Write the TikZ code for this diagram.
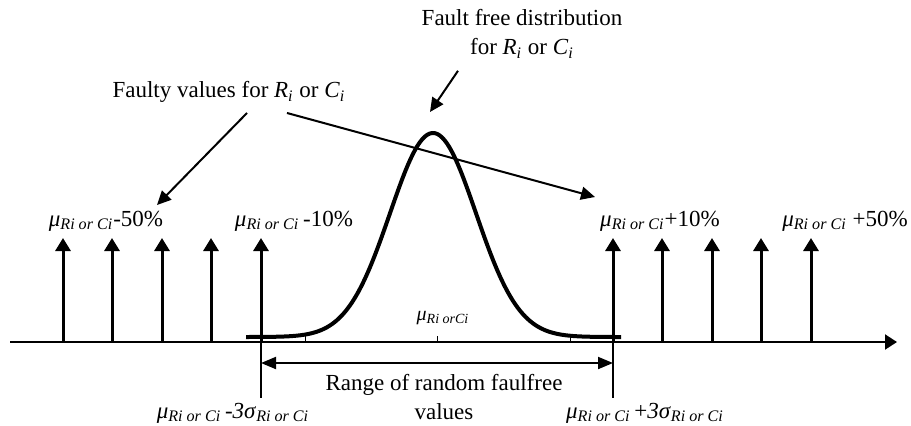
\documentclass[tikz,border=0pt]{standalone}
\usepackage{fontspec}
\setmainfont{Liberation Serif}
\usepackage{tikz}
\usetikzlibrary{positioning, arrows.meta, calc}
\newcommand{\rcsub}{\textsubscript{\textit{Ri or Ci}}}
\newcommand{\murc}{\textit{μ}\rcsub}

\begin{document}
\begin{tikzpicture}[x=0.5pt, y=-0.5pt,
      txt/.style={font=\fontsize{11.5}{14.5}\selectfont, align=center, inner sep=1pt},
      impulse/.style={-{Triangle[length=6.5pt, width=7.5pt]}, line width=1.5pt},
      axis/.style={-{Triangle[length=6pt, width=7.5pt]}, line width=1pt},
      arr/.style={-{Triangle[length=7pt, width=6.5pt]}, line width=1pt},
      span/.style={{Triangle[length=7.5pt, width=6pt]}-{Triangle[length=7.5pt, width=6pt]}, line width=1pt},
      curve/.style={line width=2pt},
      guide/.style={line width=0.6pt}]
    \useasboundingbox (0,0) rectangle (911,425);
    \coordinate (axL) at (10,342);
    \coordinate (axR) at (897,342);
    \draw[axis] (axL) -- (axR);
    \foreach \px [count=\k] in {305,437,570}
      \draw[line width=0.4pt] (\px,342) -- (\px,336);
    \draw[curve] plot[domain=246:621, samples=150, smooth] (\x, {337-204*exp(-((\x-433)/43)^2/2)});
    \foreach \px [count=\k] in {63,112,162,211,261,613,662,712,761,811} {
      \coordinate (b\k) at (\px,342);
      \coordinate (t\k) at (\px,238);
      \draw[impulse] (b\k) -- (t\k);
    }
    \coordinate (lo) at (261,398);
    \coordinate (hi) at (613,398);
    \draw[guide] (b5) -- (lo);
    \draw[guide] (b6) -- (hi);
    \coordinate (rgL) at (261,363);
    \coordinate (rgR) at (613,363);
    \draw[span] (rgL) -- (rgR);
    \node[txt] (m50) at (106,221) {\murc-50\%};
    \node[txt] (m10) at (294,221) {\murc\,-10\%};
    \node[txt] (p10) at (660,221) {\murc+10\%};
    \node[txt] (p50) at (845,221) {\murc\ +50\%};
    \node[txt, font=\fontsize{10}{12}\selectfont] (mean) at (443,318) {\textit{μ}\textsubscript{\textit{Ri orCi}}};
    \node[txt] (lolbl) at (233,413) {\murc\,-\textit{3σ}\rcsub};
    \node[txt] (hilbl) at (645,413) {\murc\,+\textit{3σ}\rcsub};
    \node[txt] (range) at (444,397) {Range of random faulfree\\values};
    \node[txt] (faulty) at (229,92) {Faulty values for \textit{R}\textsubscript{\textit{i}} or \textit{C}\textsubscript{\textit{i}}};
    \node[txt] (free) at (522,34) {Fault free distribution\\for \textit{R}\textsubscript{\textit{i}} or \textit{C}\textsubscript{\textit{i}}};
    \coordinate (tipL) at (157,205);
    \coordinate (tipR) at (595,197);
    \coordinate (tipC) at (430,112);
    \draw[arr] ($(faulty.south)+(18,8)$) -- (tipL);
    \draw[arr] ($(faulty.south)+(58,8)$) -- (tipR);
    \draw[arr] ($(free.south)+(-64,10)$) -- (tipC);
  \end{tikzpicture}
\end{document}
